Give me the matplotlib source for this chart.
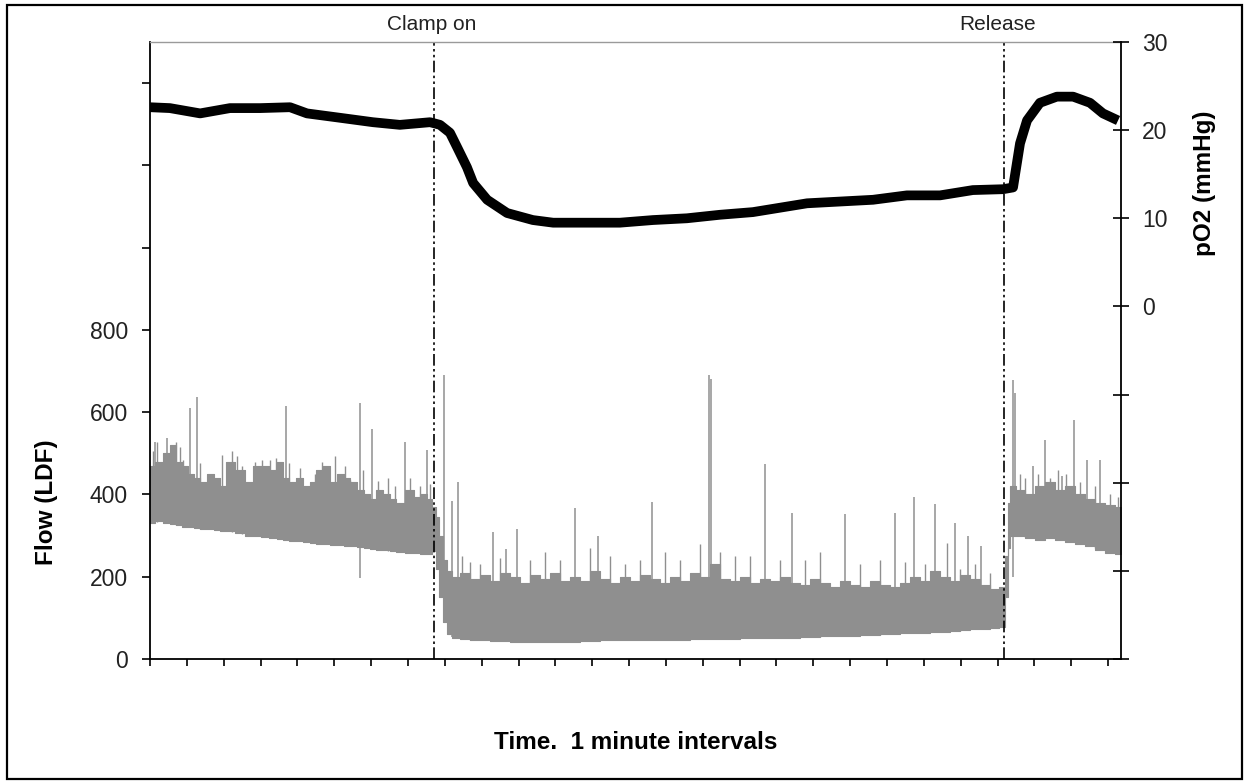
import numpy as np
import matplotlib.pyplot as plt
from matplotlib.patches import Rectangle
from matplotlib.transforms import blended_transform_factory

plt.rcParams['font.family'] = ['Liberation Sans', 'DejaVu Sans']

# flow band (LDF): time in minutes, lower / upper edge of the dense trace
band_t = [0.00, 0.27, 0.46, 0.60, 0.81, 0.95, 1.09, 1.28, 1.44, 1.63, 1.82, 1.98,
          2.17, 2.44, 2.71, 2.90, 3.12, 3.34, 3.53, 3.69, 3.88, 4.07, 4.26, 4.42,
          4.61, 4.80, 4.97, 5.16, 5.35, 5.51, 5.70, 5.89, 6.05, 6.24, 6.43, 6.59,
          6.78, 7.06, 7.25, 7.41, 7.60, 7.71, 7.80, 7.90, 8.00, 8.10,
          8.28, 8.55, 8.82, 9.09, 9.36, 9.63, 9.90, 10.18, 10.45, 10.72, 10.99,
          11.26, 11.53, 11.80, 12.08, 12.35, 12.62, 12.89, 13.16, 13.43, 13.70,
          13.98, 14.25, 14.52, 14.79, 15.06, 15.33, 15.60, 15.88, 16.15, 16.42,
          16.69, 16.96, 17.23, 17.50, 17.77, 18.05, 18.32, 18.59, 18.86, 19.13,
          19.40, 19.67, 19.95, 20.22, 20.49, 20.76, 21.03, 21.30, 21.57, 21.84,
          22.12, 22.39, 22.66, 22.93, 23.15, 23.23, 23.31, 23.39,
          23.61, 23.88, 24.15, 24.42, 24.70, 24.97, 25.24, 25.51, 25.78, 26.05, 26.35]
band_lo = [330, 335, 330, 328, 325, 322, 320, 318, 316, 315, 314, 312,
           310, 306, 300, 298, 296, 294, 292, 290, 288, 286, 284, 282,
           280, 280, 278, 276, 275, 274, 272, 270, 268, 266, 264, 262,
           260, 258, 257, 256, 255, 262, 220, 150, 90, 60,
           50, 48, 45, 45, 44, 43, 42, 42, 42, 42, 42,
           42, 42, 44, 44, 45, 45, 45, 45, 46, 46,
           47, 47, 47, 48, 48, 48, 49, 49, 50, 50,
           50, 52, 52, 52, 54, 54, 55, 56, 56, 57,
           58, 58, 60, 60, 62, 63, 64, 65, 66, 68,
           70, 72, 74, 76, 78, 150, 270, 300,
           300, 295, 290, 295, 290, 285, 280, 275, 265, 258, 255]
band_hi = [470, 480, 500, 520, 480, 470, 450, 440, 430, 450, 440, 420,
           480, 460, 430, 470, 470, 460, 480, 440, 430, 440, 420, 430,
           460, 470, 430, 450, 440, 430, 410, 400, 390, 410, 400, 390,
           380, 410, 395, 400, 390, 370, 345, 300, 240, 215,
           200, 210, 195, 205, 190, 210, 200, 185, 205, 195, 210,
           190, 200, 190, 215, 195, 185, 200, 190, 205, 195,
           185, 200, 190, 210, 200, 230, 195, 190, 200, 185,
           195, 190, 200, 185, 180, 195, 185, 175, 190, 180,
           175, 190, 180, 175, 185, 200, 190, 215, 200, 190,
           205, 195, 180, 170, 175, 250, 380, 420,
           410, 400, 420, 430, 410, 420, 400, 390, 380, 375, 370]

# tall isolated flow spikes (time, peak)
spike_t = [0.14, 0.46, 1.09, 1.28, 3.69, 5.70, 6.02, 6.92, 7.52, 7.98, 8.20, 8.36,
           9.31, 9.66, 9.96, 11.53, 12.16, 13.62, 15.17, 15.22, 16.69, 17.42,
           18.86, 20.22, 20.73, 21.30, 21.84, 22.20, 22.55, 23.42, 23.47, 23.96,
           24.29, 24.75, 25.07, 25.43, 25.78]
spike_top = [528, 538, 611, 637, 616, 623, 558, 528, 509, 691, 383, 431,
             308, 267, 315, 368, 300, 381, 691, 680, 473, 356,
             352, 356, 395, 376, 330, 298, 274, 679, 647, 468,
             533, 444, 582, 485, 485]

# smaller spikes just above the dense band
minor_t = [0.08, 0.19, 0.38, 0.71, 0.81, 0.90, 1.36, 1.95, 2.12, 2.23, 2.36, 2.50,
           2.85, 3.04, 3.26, 3.42, 3.77, 4.07, 4.48, 4.67, 5.02, 5.29, 5.43, 5.78,
           6.19, 6.46, 6.65, 7.06, 7.33, 7.60,
           8.47, 8.68, 8.96, 9.50, 10.31, 10.72, 11.13, 11.94, 12.48, 12.89, 13.30,
           13.98, 14.38, 14.93, 15.47, 15.88, 16.28, 17.10, 17.77, 18.18, 19.27,
           19.81, 20.49, 21.03, 21.63, 21.98, 22.39, 22.80,
           23.61, 23.74, 24.10, 24.42, 24.64, 24.86, 25.24, 25.64, 26.05, 26.27]
minor_top = [505, 527, 493, 527, 515, 485, 477, 497, 473, 505, 493, 468,
             480, 485, 485, 489, 477, 465, 450, 480, 493, 470, 436, 460,
             432, 440, 420, 440, 420, 425,
             250, 235, 230, 245, 240, 260, 240, 270, 250, 230, 240,
             260, 240, 280, 260, 250, 250, 240, 240, 260, 230,
             240, 235, 230, 283, 218, 230, 210,
             450, 440, 450, 440, 460, 450, 430, 420, 400, 395]

dip_t = [5.70, 23.42]
dip_bottom = [196, 199]

# pO2 trace (mmHg)
po2_t = [0.00, 0.54, 1.36, 2.17, 2.99, 3.80, 4.26, 5.16, 6.05, 6.78, 7.60, 7.87,
         8.14, 8.33, 8.60, 8.77, 9.15, 9.69, 10.39, 10.94, 11.86, 12.75, 13.65,
         14.57, 15.47, 16.36, 17.83, 19.62, 20.54, 21.44, 22.33, 23.15, 23.42,
         23.61, 23.80, 24.15, 24.61, 25.05, 25.51, 25.86, 26.27]
po2 = [22.6, 22.5, 21.9, 22.5, 22.5, 22.6, 21.9, 21.4, 20.9, 20.6, 20.9, 20.6,
       19.7, 18.1, 15.8, 14.0, 12.1, 10.6, 9.8, 9.5, 9.5, 9.5, 9.8,
       10.0, 10.4, 10.7, 11.7, 12.1, 12.6, 12.6, 13.2, 13.3, 13.5,
       18.5, 21.1, 23.1, 23.8, 23.8, 23.1, 21.9, 21.1]

event_t = [7.71, 23.17]
event_labels = ['Clamp on', 'Release']
event_label_t = [7.65, 23.0]

grey = '#8f8f8f'

fig = plt.figure(figsize=(12.51, 7.84), dpi=100)
ax = fig.add_axes([150 / 1251, 1 - 659 / 784, 971 / 1251, 617 / 784])
ax2 = ax.twinx()

# flow
ax.fill_between(band_t, band_lo, band_hi, step='mid', color=grey,
                linewidth=0.8, edgecolor=grey)
ax.vlines(minor_t, np.interp(minor_t, band_t, band_lo), minor_top,
          color=grey, linewidth=1.0)
ax.vlines(spike_t, np.interp(spike_t, band_t, band_lo), spike_top,
          color=grey, linewidth=1.1)
ax.vlines(dip_t, dip_bottom, np.interp(dip_t, band_t, band_hi), color=grey, linewidth=1.1)

ax.set_xlim(0, 26.35)
ax.set_ylim(0, 1500)
ax.set_xticks(range(0, 27))
ax.set_xticklabels([])
ax.set_yticks(range(0, 1401, 200))
ax.set_yticklabels([str(v) if v <= 800 else '' for v in range(0, 1401, 200)])
ax.tick_params(axis='y', direction='out', length=5.8, width=1.2, pad=10,
               labelsize=16.5, labelcolor='#222222')
ax.tick_params(axis='x', direction='out', length=5, width=1.2)
for s in ['left', 'bottom']:
    ax.spines[s].set_linewidth(1.3)
ax.spines['top'].set_color('#9a9a9a')
ax.spines['top'].set_linewidth(1.0)
ax.spines['right'].set_visible(False)

# event lines
for t in event_t:
    ax.axvline(t, color='black', linewidth=1.2, linestyle=(0, (7, 2, 1.5, 2, 1.5, 2)))
trans = blended_transform_factory(ax.transData, ax.transAxes)
for t, lab in zip(event_label_t, event_labels):
    ax.text(t, 1.028, lab, transform=trans, ha='center', va='center',
            fontsize=15, color='#222222')

# pO2
ax2.plot(po2_t, po2, color='black', linewidth=7, solid_capstyle='butt')
ax2.set_ylim(-40, 30)
ax2.set_yticks(range(-40, 31, 10))
ax2.set_yticklabels([str(v) if v >= 0 else '' for v in range(-40, 31, 10)])
ax2.tick_params(axis='y', direction='inout', length=11.5, width=1.2, pad=9.4,
                labelsize=16.5, labelcolor='#222222')
ax2.spines['right'].set_linewidth(1.3)
for s in ['left', 'top', 'bottom']:
    ax2.spines[s].set_visible(False)

# axis labels
ax.set_ylabel('Flow (LDF)', fontsize=17.5, fontweight='bold')
ax.yaxis.label.set_va('center')
ax.yaxis.set_label_coords(-0.107, 0.254)
ax2.set_ylabel('pO2 (mmHg)', fontsize=17.5, fontweight='bold')
ax2.yaxis.label.set_va('center')
ax2.yaxis.set_label_coords(1.0865, 0.771)
ax.set_xlabel('Time.  1 minute intervals', fontsize=17.5, fontweight='bold')
ax.xaxis.label.set_va('center')
ax.xaxis.set_label_coords(0.5, -0.136)

# outer frame
fig.patches.append(Rectangle((7 / 1251, 1 - 779 / 784), 1235 / 1251, 774 / 784,
                             transform=fig.transFigure, fill=False,
                             edgecolor='black', linewidth=1.6))

fig.savefig('out.png', dpi=100)
